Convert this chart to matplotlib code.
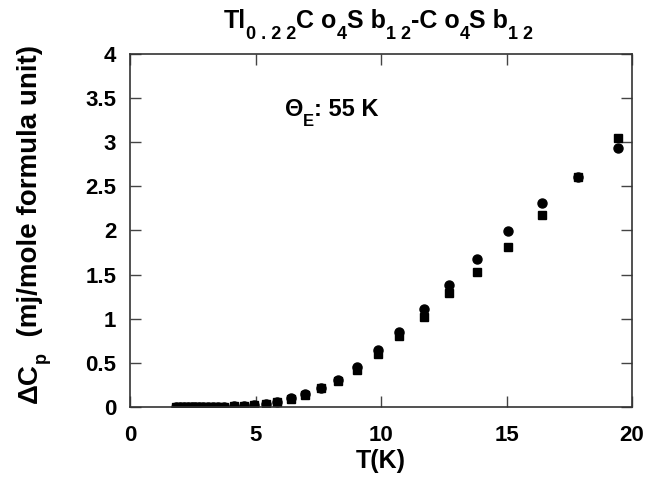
import matplotlib
matplotlib.use("Agg")
import matplotlib.pyplot as plt

plt.rcParams['font.family'] = 'Liberation Sans'
plt.rcParams['font.weight'] = 'bold'

# temperature (K) and excess specific heat, two data sets
T = [1.85, 2.0, 2.15, 2.3, 2.45, 2.6, 2.75, 2.9, 3.1, 3.3, 3.5, 3.75,
     4.15, 4.55, 4.95, 5.4, 5.87, 6.4, 6.97, 7.6, 8.3, 9.03, 9.87,
     10.73, 11.69, 12.72, 13.82, 15.05, 16.4, 17.85, 19.42]
dcp_circ = [0.0, 0.0, 0.0, 0.0, 0.0, 0.0, 0.001, 0.001, 0.002, 0.003, 0.004, 0.006,
            0.009, 0.014, 0.022, 0.034, 0.062, 0.098, 0.143, 0.218, 0.31, 0.45, 0.645,
            0.85, 1.11, 1.386, 1.68, 1.995, 2.315, 2.61, 2.93]
dcp_sq = [0.0, 0.0, 0.0, 0.0, 0.0, 0.0, 0.001, 0.001, 0.002, 0.003, 0.004, 0.006,
          0.009, 0.013, 0.02, 0.032, 0.06, 0.095, 0.14, 0.215, 0.3, 0.42, 0.60,
          0.81, 1.02, 1.29, 1.53, 1.81, 2.18, 2.6, 3.05]

xticks = [0, 5, 10, 15, 20]
yticks = [0, 0.5, 1, 1.5, 2, 2.5, 3, 3.5, 4]
ylabels = ['0', '0.5', '1', '1.5', '2', '2.5', '3', '3.5', '4']

# (text, size, baseline shift in points) pieces for labels with subscripts
title_parts = [('Tl', 18, 0), ('0 . 2 2', 13, -8), ('C o', 18, 0), ('4', 13, -8),
               ('S b', 18, 0), ('1 2', 13, -8), ('-C o', 18, 0), ('4', 13, -8),
               ('S b', 18, 0), ('1 2', 13, -8)]
ylabel_parts = [('ΔC', 20, 0), ('p', 13, -6), ('  (mj/mole formula unit)', 20, 0)]
theta_parts = [('Θ', 17, 0), ('E', 12, -7), (': 55 K', 17, 0)]

fig = plt.figure(figsize=(6.47, 4.8), dpi=100)
ax = fig.add_axes([0.201, 0.152, 0.776, 0.736])

ax.plot(T, dcp_circ, 'o', color='black', markersize=6.5)
ax.plot(T, dcp_sq, 's', color='black', markersize=5.6)

ax.set_xlim(0, 20)
ax.set_ylim(0, 4)
ax.set_xticks(xticks)
ax.set_yticks(yticks)
ax.set_yticklabels(ylabels)
ax.tick_params(direction='in', length=8, width=1, top=True, right=True,
               labelsize=16, color='#444444')
ax.tick_params(axis='x', pad=13)
ax.tick_params(axis='y', pad=10)
for s in ax.spines.values():
    s.set_linewidth(1.2)
    s.set_color('#333333')

ax.set_xlabel('T(K)', fontsize=18, fontweight='bold', labelpad=2)


def chain_text(parts, x0, y0, vertical=False):
    # lay pieces end to end, each starting where the previous one stops
    prev = None
    for s, size, shift in parts:
        if vertical:
            if prev is None:
                xyc, xy = 'figure pixels', (x0, y0)
            else:
                xyc, xy = ('figure pixels', prev), (x0, 1)
            off = (-shift, 0)
            rot = 90
        else:
            if prev is None:
                xyc, xy = 'figure pixels', (x0, y0)
            else:
                xyc, xy = (prev, 'figure pixels'), (1, y0)
            off = (0, shift)
            rot = 0
        prev = ax.annotate(s, xy=xy, xycoords=xyc, xytext=off,
                           textcoords='offset points', fontsize=size,
                           fontweight='bold', ha='left', va='baseline',
                           rotation=rot, rotation_mode='anchor',
                           annotation_clip=False)


chain_text(title_parts, 224, 452)
chain_text(ylabel_parts, 37, 77, vertical=True)
chain_text(theta_parts, 285, 364)

fig.savefig('out.png', dpi=100)
